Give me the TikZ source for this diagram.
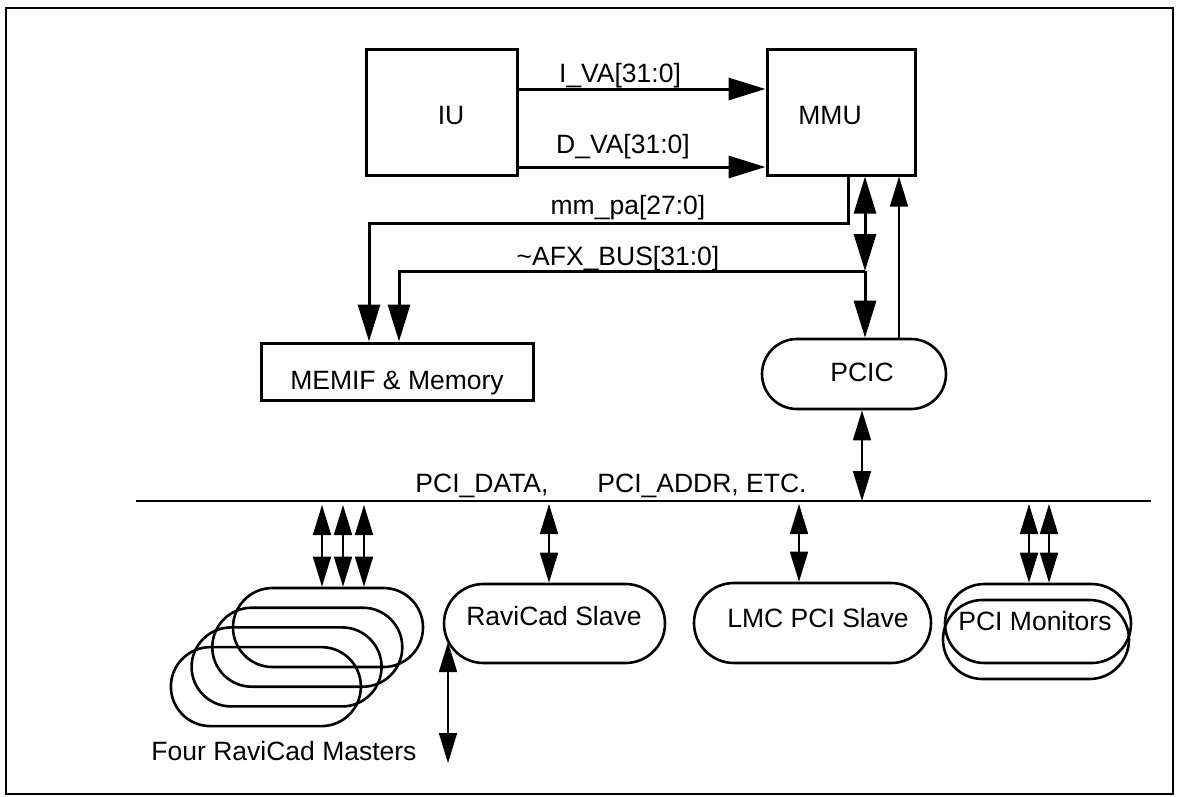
\documentclass[tikz,border=0pt]{standalone}
\usepackage{fontspec}
\setmainfont{Liberation Sans}
\usetikzlibrary{arrows.meta,shapes.misc}
\tikzset{
  bigtip/.tip={Triangle[length=37pt,width=22pt]},
  smalltip/.tip={Triangle[length=30pt,width=18pt]},
  box/.style={draw, line width=3pt, rectangle, inner sep=0pt},
  pill/.style={draw, line width=2.6pt, rounded rectangle, inner sep=0pt, minimum height=79pt},
  lbl/.style={inner sep=0pt, anchor=base, font=\fontsize{26.5}{30}\selectfont},
  busline/.style={line width=3pt},
  thinline/.style={line width=1.6pt},
}
\begin{document}
\begin{tikzpicture}[x=1pt,y=-1pt]
\useasboundingbox (0,0) rectangle (1181,796);
% frame
\node[draw, line width=2pt, inner sep=0pt, minimum width=1167pt, minimum height=786pt] (frame) at (589.5,401) {};
% boxes
\node[box, minimum width=151pt, minimum height=126pt] (IU) at (441.5,112) {};
\node[box, minimum width=148pt, minimum height=126pt] (MMU) at (841,112) {};
\node[box, minimum width=272pt, minimum height=57pt] (MEMIF) at (397,371.5) {};
\node[pill, minimum width=184pt, minimum height=70pt] (PCIC) at (854,374) {};
\node[pill, minimum width=221pt] (SL) at (554.5,623.5) {};
\node[pill, minimum width=237pt, minimum height=80pt] (LMC) at (812.5,623) {};
\node[pill, minimum width=186pt] (MA) at (1038,623.5) {};
\node[pill, minimum width=186pt] (MB) at (1036,639.5) {};
\node[pill, minimum width=190pt] (M1) at (328,627.5) {};
\node[pill, minimum width=190pt] (M2) at (307.3,647.2) {};
\node[pill, minimum width=190pt] (M3) at (286.6,666.9) {};
\node[pill, minimum width=190pt] (M4) at (265.9,686.6) {};
% texts
\node[lbl] (tIU) at (451,124) {IU};
\node[lbl] (tMMU) at (830,124) {MMU};
\node[lbl] (tIVA) at (620,82) {I\_VA[31:0]};
\node[lbl] (tDVA) at (623,153) {D\_VA[31:0]};
\node[lbl] (tMPA) at (628,214) {mm\_pa[27:0]};
\node[lbl] (tAFX) at (618,265) {\textasciitilde AFX\_BUS[31:0]};
\node[lbl] (tMEM) at (397,389) {MEMIF \& Memory};
\node[lbl] (tPCIC) at (862,381) {PCIC};
\node[lbl] (tPD) at (482,492) {PCI\_DATA,};
\node[lbl] (tPA) at (702,492) {PCI\_ADDR, ETC.};
\node[lbl] (tSL) at (554,625) {RaviCad Slave};
\node[lbl] (tLMC) at (818,627) {LMC PCI Slave};
\node[lbl] (tMON) at (1035,630) {PCI Monitors};
\node[lbl] (tMAS) at (284,760) {Four RaviCad Masters};
% helper coordinates
\coordinate (yI) at (0,89);
\coordinate (yD) at (0,167);
\coordinate (xmp) at (848,0);
\coordinate (mpL) at (369,223);
\coordinate (jn) at (865,271);
\coordinate (xafL) at (399,0);
\coordinate (xup) at (899,0);
\coordinate (xpb) at (862,0);
\coordinate (busL) at (136,501);
\coordinate (busR) at (1151,501);
\coordinate (ma1) at (322,505);
\coordinate (ma2) at (343,505);
\coordinate (ma3) at (364,505);
\coordinate (sa) at (549,504);
\coordinate (la) at (799,504);
\coordinate (na1) at (1029,504);
\coordinate (na2) at (1049,504);
\coordinate (lo1) at (448,642);
\coordinate (lo2) at (448,763);
% thick connectors
\draw[busline,-bigtip] (IU.east |- yI) -- (MMU.west |- yI);
\draw[busline,-bigtip] (IU.east |- yD) -- (MMU.west |- yD);
\draw[busline,-bigtip] (MMU.south -| xmp) |- (mpL) -- (MEMIF.north -| mpL);
\draw[busline,bigtip-bigtip] (MMU.south -| jn) -- (jn);
\draw[busline,-bigtip] (jn) -- (PCIC.north -| jn);
\draw[busline,-bigtip] (jn) -| (MEMIF.north -| xafL);
% thin connectors
\draw[thinline,-smalltip] (PCIC.north -| xup) -- (MMU.south -| xup);
\draw[thinline,smalltip-smalltip] (PCIC.south -| xpb) -- (xpb |- busL);
\draw[thinline] (busL) -- (busR);
\draw[thinline,smalltip-smalltip] (ma1) -- (M1.north -| ma1);
\draw[thinline,smalltip-smalltip] (ma2) -- (M1.north -| ma2);
\draw[thinline,smalltip-smalltip] (ma3) -- (M1.north -| ma3);
\draw[thinline,smalltip-smalltip] (sa) -- (SL.north -| sa);
\draw[thinline,smalltip-smalltip] (la) -- (LMC.north -| la);
\draw[thinline,smalltip-smalltip] (na1) -- (MA.north -| na1);
\draw[thinline,smalltip-smalltip] (na2) -- (MA.north -| na2);
\draw[thinline,smalltip-smalltip] (lo1) -- (lo2);
\end{tikzpicture}
\end{document}
